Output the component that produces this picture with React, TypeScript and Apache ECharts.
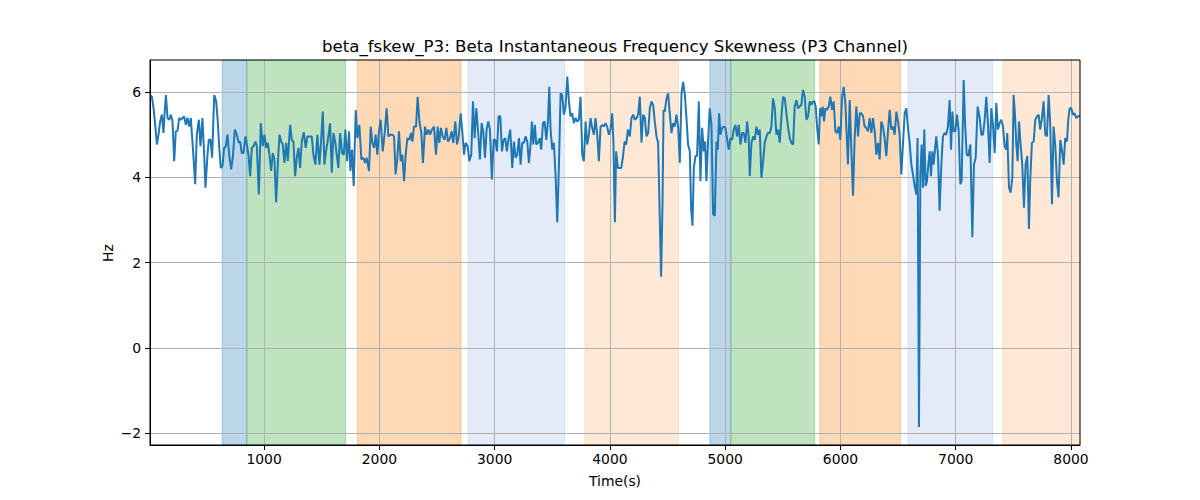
import React, { useEffect, useRef } from "react";
import * as echarts from "echarts";

const TITLE = "beta_fskew_P3: Beta Instantaneous Frequency Skewness (P3 Channel)";
const X_LABEL = "Time(s)";
const Y_LABEL = "Hz";

const xTicks = [1000, 2000, 3000, 4000, 5000, 6000, 7000, 8000];
const yTicks = [-2, 0, 2, 4, 6];
const X_MIN = 10;
const X_MAX = 8078;
const Y_MIN = -2.27;
const Y_MAX = 6.75;

// shaded time intervals
const spanStarts = [636, 850, 1809, 2769, 3783, 4867, 5049, 5821, 6586, 7408];
const spanEnds = [850, 1706, 2708, 3606, 4595, 5049, 5776, 6521, 7320, 8078];
const spanKinds = ["blue", "green", "orange", "lightblue", "lightorange", "blue", "green", "orange", "lightblue", "lightorange"];

// [time (s), Hz]
const betaFskew: [number, number][] = [
  [10,5.93],[26,5.89],[41,5.62],[55,5.23],[70,4.77],[84,5.00],[98,5.31],[113,5.47],[127,5.04],[136,5.47],
  [148,5.93],[162,5.39],[176,5.35],[191,5.47],[205,5.31],[220,4.38],[234,5.08],[249,5.09],[263,5.39],[278,5.35],
  [292,5.39],[306,5.43],[321,5.23],[335,5.40],[350,5.19],[364,5.39],[382,4.69],[402,3.84],[416,5.00],[434,5.35],
  [448,4.73],[465,5.39],[480,4.53],[491,3.76],[509,4.53],[520,4.88],[535,4.88],[549,4.46],[567,5.93],[584,5.78],
  [598,5.31],[613,4.61],[624,4.22],[639,4.26],[653,4.69],[668,4.73],[682,5.00],[697,4.53],[714,4.19],[728,4.46],
  [746,5.12],[763,5.00],[780,4.81],[792,4.84],[806,4.57],[821,4.57],[838,4.96],[850,4.77],[864,4.53],[879,4.03],
  [893,4.69],[908,4.73],[925,4.84],[937,4.73],[954,3.60],[971,5.27],[989,4.73],[1003,5.00],[1017,4.69],[1032,4.81],
  [1046,4.53],[1061,4.15],[1075,4.57],[1090,4.42],[1104,3.41],[1119,4.30],[1133,5.00],[1147,4.84],[1162,4.77],[1176,4.34],
  [1191,4.81],[1205,4.38],[1226,5.23],[1240,4.88],[1254,4.84],[1269,4.03],[1283,4.46],[1298,4.69],[1312,4.22],[1327,4.84],
  [1344,5.06],[1361,4.69],[1376,4.96],
  [1393,4.96],[1413,4.96],[1428,4.53],[1445,4.30],[1462,5.00],[1480,4.30],[1494,4.84],[1509,5.54],[1523,4.30],[1537,4.61],
  [1555,4.92],[1572,5.27],[1587,4.11],[1601,5.04],[1618,4.81],[1630,4.53],[1644,4.22],[1659,5.04],[1676,4.57],[1691,4.53],
  [1705,5.12],[1720,4.38],[1737,5.08],[1748,4.15],[1763,4.65],[1777,3.80],[1795,5.58],[1809,4.92],[1826,5.23],[1844,4.42],
  [1861,4.46],[1876,4.34],[1890,4.46],[1910,4.15],[1925,5.19],[1939,4.81],[1954,4.69],[1968,5.00],[1982,4.53],[1997,5.08],
  [2011,5.35],[2029,4.61],[2046,5.04],[2063,5.62],[2078,4.96],[2095,5.00],[2113,5.00],[2127,4.96],[2141,4.07],[2156,4.46],
  [2170,5.08],[2185,4.38],[2199,4.53],[2214,3.91],[2228,4.53],[2243,4.92],[2260,4.88],[2274,5.04],[2286,4.84],[2300,5.19],
  [2318,5.19],[2332,5.89],[2347,5.31],[2364,5.04],[2378,4.34],[2396,5.19],[2410,5.00],[2425,5.12],[2439,5.00],[2456,5.12],
  [2474,5.19],[2491,4.53],[2506,5.19],[2520,4.81],[2534,5.16],[2549,4.96],[2566,4.88],[2581,5.16],[2595,4.84],[2613,4.92],
  [2627,5.08],[2641,4.81],[2659,5.31],[2673,4.77],[2688,4.96],[2705,5.50],[2719,5.08],[2734,4.53],[2748,4.81],[2766,4.73],
  [2780,4.38],
  [2797,4.53],[2812,5.78],[2826,4.92],[2841,5.62],[2858,5.00],[2872,4.42],[2887,5.27],[2901,5.08],[2916,4.46],[2930,5.12],
  [2945,5.31],[2959,5.12],[2976,3.95],[2991,4.88],[3005,4.88],[3020,4.61],[3034,5.43],[3049,5.43],[3063,4.61],[3078,4.88],
  [3092,4.92],[3106,4.61],[3121,4.92],[3135,5.12],[3153,4.22],[3167,4.84],[3182,4.46],[3196,4.53],[3211,4.92],[3225,4.30],
  [3239,4.81],[3254,4.81],[3268,4.96],[3283,4.84],[3297,4.34],[3312,4.77],[3323,5.31],[3335,4.77],[3349,5.23],[3361,4.77],
  [3375,4.81],[3390,4.92],[3404,4.65],[3419,5.27],[3433,5.31],[3448,4.88],[3462,5.31],[3474,6.12],[3485,5.12],[3500,4.65],
  [3514,4.81],[3528,4.07],[3543,2.95],[3557,4.22],[3572,5.97],[3586,5.93],[3601,5.47],[3615,5.66],[3630,6.36],[3644,5.78],
  [3658,5.43],[3673,5.50],[3687,5.27],[3702,5.39],[3716,5.31],[3731,5.35],[3745,5.89],[3760,4.53],[3774,4.38],[3789,5.31],
  [3803,4.77],[3817,5.00],[3832,5.39],[3846,5.16],[3861,5.00],[3875,5.39],[3890,5.00],[3904,4.38],[3919,5.19],[3933,5.23],
  [3947,5.19],[3962,5.27],[3976,5.19],[3991,5.00],[4005,5.12],[4020,5.50],[4031,4.77],[4043,2.95],[4054,4.61],[4069,4.22],
  [4083,4.22],[4098,4.22],[4112,4.46],[4127,4.84],[4141,4.77],[4156,5.12],
  [4173,4.96],[4187,5.39],[4202,5.47],[4216,5.35],[4231,5.39],[4245,5.47],[4259,5.89],[4274,4.81],[4288,5.47],[4303,5.39],
  [4317,4.96],[4332,5.04],[4346,5.62],[4361,5.78],[4375,5.70],[4389,5.31],[4404,4.96],[4418,4.81],[4433,2.98],[4444,1.67],
  [4456,3.37],[4465,5.58],[4476,5.54],[4491,5.85],[4505,5.97],[4520,5.47],[4534,5.04],[4548,5.27],[4563,5.19],[4577,5.47],
  [4592,5.19],[4606,4.34],[4621,5.97],[4635,6.24],[4650,5.93],[4664,5.39],[4678,4.77],[4693,4.61],[4704,3.29],[4716,2.87],
  [4728,4.22],[4742,4.50],[4756,4.50],[4771,5.78],[4785,3.91],[4800,5.16],[4814,4.61],[4826,4.84],[4837,3.91],[4852,4.88],
  [4866,5.62],[4881,5.23],[4895,3.14],[4910,3.10],[4924,4.84],[4936,4.65],[4947,5.50],[4959,5.00],[4973,5.16],[4988,5.19],
  [5002,5.16],[5017,4.88],[5031,4.65],[5045,4.92],[5060,4.88],[5074,5.12],[5089,5.23],[5103,4.96],[5118,5.23],[5132,4.77],
  [5147,5.04],[5161,5.04],[5176,4.81],[5190,5.31],[5204,4.96],[5213,4.03],[5228,4.81],[5242,4.96],[5256,4.88],[5271,5.19],
  [5285,5.00],[5300,5.12],[5314,3.99],[5329,4.38],[5343,4.81],[5358,4.96],[5372,5.04],[5387,5.04],[5401,5.19],[5415,5.85],
  [5430,5.62],[5444,5.00],[5459,5.12],[5473,4.81],[5488,5.43],[5502,5.89],[5517,5.85],[5531,5.50],[5545,5.19],
  [5560,4.92],[5574,4.81],[5589,4.77],[5603,5.66],[5618,5.81],[5632,5.62],[5646,5.66],[5661,5.70],[5675,6.05],[5690,5.89],
  [5704,5.35],[5719,5.43],[5733,5.78],[5748,5.70],[5762,5.78],[5774,5.78],[5785,5.66],[5797,5.19],[5811,4.77],[5823,5.62],
  [5834,5.43],[5846,5.66],[5857,5.31],[5869,5.62],[5883,5.58],[5898,5.66],[5912,5.89],[5927,5.58],[5941,5.78],[5956,5.08],
  [5970,5.04],[5985,5.19],[5999,4.88],[6013,5.85],[6028,6.12],[6042,5.74],[6054,5.00],[6065,4.30],[6080,5.81],[6094,4.69],
  [6109,3.57],[6123,4.92],[6138,5.66],[6152,4.96],[6167,5.50],[6181,5.50],[6196,5.43],[6210,5.19],[6224,5.16],[6239,5.08],
  [6253,5.39],[6268,5.04],[6282,5.39],[6297,5.08],[6311,4.53],[6326,4.81],[6340,4.42],[6354,5.31],[6369,5.19],[6383,4.92],
  [6398,4.50],[6412,5.08],[6427,5.58],[6441,5.12],[6456,5.19],[6470,5.00],[6485,5.54],[6499,5.31],[6513,5.00],[6528,4.07],
  [6542,4.77],[6557,5.50],[6571,5.62],[6586,5.16],[6600,4.81],[6615,4.30],[6629,4.07],[6643,3.80],[6658,3.60],[6669,4.92],
  [6681,-1.85],[6693,4.07],[6704,4.77],[6716,3.76],[6727,5.12],[6739,3.80],[6750,3.91],[6762,4.30],[6774,4.61],[6785,4.03],
  [6797,4.61],[6808,4.30],[6820,4.65],[6831,4.96],[6846,4.53],[6860,3.22],[6875,4.30],[6889,4.96],[6904,5.04],[6918,5.00],
  [6932,5.19],
  [6947,5.81],[6959,4.65],[6971,5.54],[6982,5.08],[6997,5.08],[7011,5.47],[7025,5.12],[7040,3.84],[7051,3.91],[7069,6.28],
  [7080,5.31],[7095,4.53],[7109,4.50],[7127,4.77],[7144,2.60],[7158,4.30],[7173,4.46],[7190,5.66],[7208,5.39],[7222,5.00],
  [7236,5.00],[7251,5.35],[7265,5.89],[7280,5.23],[7294,4.34],[7309,5.62],[7323,5.23],[7338,4.57],[7352,5.74],[7366,5.12],
  [7381,5.27],[7395,5.35],[7410,5.19],[7424,4.73],[7439,4.65],[7447,5.04],[7462,3.76],[7476,3.64],[7491,3.99],[7502,5.93],
  [7514,5.47],[7525,4.77],[7537,4.38],[7549,5.31],[7563,4.77],[7577,4.30],[7592,3.29],[7606,4.30],[7621,4.50],[7635,2.79],
  [7647,3.99],[7661,4.81],[7676,4.84],[7690,5.35],[7705,5.43],[7719,5.47],[7733,5.12],[7748,5.39],[7762,5.78],[7777,5.00],
  [7791,4.96],[7806,5.93],[7820,5.23],[7835,3.37],[7849,5.19],[7864,4.73],[7878,3.91],[7892,3.53],[7907,4.88],[7921,4.65],
  [7936,4.30],[7950,4.92],[7965,4.84],[7976,5.35],[7988,5.62],[8002,5.62],[8017,5.47],[8031,5.50],[8046,5.39],[8060,5.43],
  [8078,5.43],
];

const SPAN_STYLE: Record<string, { color: string; borderColor: string }> = {
  blue: { color: "rgba(31,119,180,0.3)", borderColor: "rgba(31,119,180,0.3)" },
  green: { color: "rgba(44,160,44,0.3)", borderColor: "rgba(44,160,44,0.3)" },
  orange: { color: "rgba(255,127,14,0.3)", borderColor: "rgba(255,127,14,0.3)" },
  lightblue: { color: "rgba(160,190,228,0.3)", borderColor: "rgba(160,190,228,0.3)" },
  lightorange: { color: "rgba(255,127,14,0.17)", borderColor: "rgba(255,127,14,0.17)" },
};

const FONT = "DejaVu Sans";
const minus = (v: number) => String(v).replace("-", "\u2212");

export default function App() {
  const ref = useRef<HTMLDivElement>(null);
  useEffect(() => {
    if (!ref.current) return;
    const chart = echarts.init(ref.current, null, { renderer: "svg" });
    const areas = spanStarts.map((s, i) => [
      { xAxis: s, itemStyle: { ...SPAN_STYLE[spanKinds[i]], borderWidth: 1 } },
      { xAxis: spanEnds[i] },
    ]);
    chart.setOption({
      animation: false,
      backgroundColor: "#ffffff",
      grid: {
        left: 150,
        right: 120,
        top: 60,
        bottom: 55,
        show: true,
        borderColor: "#000",
        borderWidth: 1,
        backgroundColor: "transparent",
        z: 3,
      },
      xAxis: {
        type: "value",
        min: X_MIN,
        max: X_MAX,
        z: 1.5,
        axisLine: { show: true, onZero: false, lineStyle: { color: "#000", width: 1 } },
        axisTick: { show: true, length: 5, customValues: xTicks, lineStyle: { color: "#000" } },
        axisLabel: {
          customValues: xTicks,
          margin: 7,
          fontFamily: FONT,
          fontSize: 13.9,
          color: "#000",
          formatter: (v: number) => minus(v),
        },
        splitLine: { show: true, lineStyle: { color: "#b0b0b0", width: 1 } },
      },
      yAxis: {
        type: "value",
        min: Y_MIN,
        max: Y_MAX,
        z: 1.5,
        axisLine: { show: true, onZero: false, lineStyle: { color: "#000", width: 1 } },
        axisTick: { show: true, length: 5, customValues: yTicks, lineStyle: { color: "#000" } },
        axisLabel: {
          customValues: yTicks,
          margin: 9,
          fontFamily: FONT,
          fontSize: 13.9,
          color: "#000",
          formatter: (v: number) => minus(v),
        },
        splitLine: { show: true, lineStyle: { color: "#b0b0b0", width: 1 } },
      },
      graphic: [
        {
          type: "text",
          x: 615,
          y: 46,
          style: {
            text: TITLE,
            fontFamily: FONT,
            fontSize: 16.67,
            fill: "#000",
            textAlign: "center",
            textVerticalAlign: "middle",
          },
        },
        {
          type: "text",
          x: 615,
          y: 481,
          style: {
            text: X_LABEL,
            fontFamily: FONT,
            fontSize: 13.9,
            fill: "#000",
            textAlign: "center",
            textVerticalAlign: "middle",
          },
        },
        {
          type: "text",
          x: 108,
          y: 253,
          rotation: Math.PI / 2,
          style: {
            text: Y_LABEL,
            fontFamily: FONT,
            fontSize: 13.9,
            fill: "#000",
            textAlign: "center",
            textVerticalAlign: "middle",
          },
        },
      ],
      series: [
        {
          type: "line",
          data: betaFskew,
          showSymbol: false,
          symbol: "none",
          z: 2,
          lineStyle: { color: "#1f77b4", width: 2 },
          markArea: { silent: true, z: 1, data: areas },
        },
      ],
    });
    return () => chart.dispose();
  }, []);
  return (
    <div
      ref={ref}
      style={{ position: "fixed", left: 0, top: 0, width: 1200, height: 500, background: "#fff" }}
    />
  );
}
